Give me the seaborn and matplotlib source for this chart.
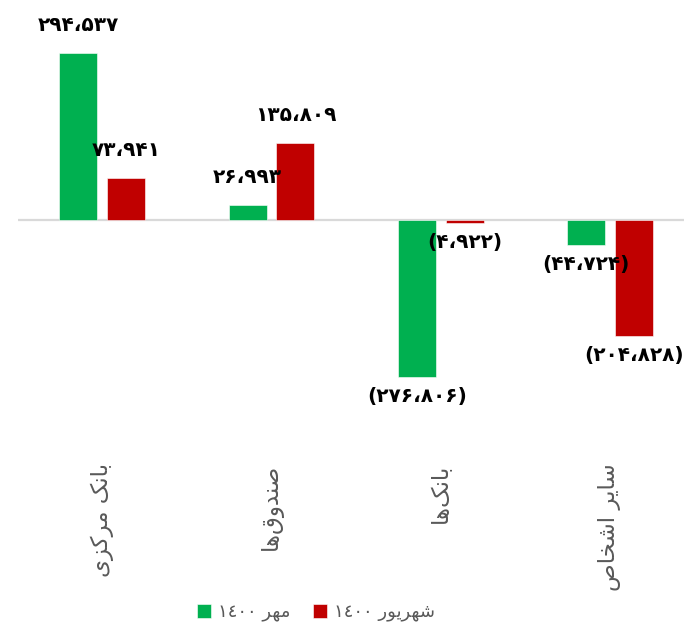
#! /bin/env python3

''' Grouped bar chart: net change by sector, Mehr vs Shahrivar 1400 '''

import matplotlib
matplotlib.use('Agg')
import matplotlib.pyplot as plt
import seaborn as sns
from pandas import DataFrame

categories = ["بانک مرکزی", "صندوق‌ها", "بانک‌ها", "سایر اشخاص"]
series = ["مهر ١٤٠٠", "شهریور ١٤٠٠"]
mehr_values = [294537, 26993, -276806, -44724]
shahrivar_values = [73941, 135809, -4922, -204828]
colors = ["#00B050", "#C00000"]

# isolated, final, initial, medial presentation forms
FORMS = {
    'ا': ('\uFE8D', '\uFE8E', None, None),
    'ب': ('\uFE8F', '\uFE90', '\uFE91', '\uFE92'),
    'ن': ('\uFEE5', '\uFEE6', '\uFEE7', '\uFEE8'),
    'ک': ('\uFB8E', '\uFB8F', '\uFB90', '\uFB91'),
    'م': ('\uFEE1', '\uFEE2', '\uFEE3', '\uFEE4'),
    'ر': ('\uFEAD', '\uFEAE', None, None),
    'ز': ('\uFEAF', '\uFEB0', None, None),
    'ی': ('\uFBFC', '\uFBFD', '\uFBFE', '\uFBFF'),
    'ص': ('\uFEB9', '\uFEBA', '\uFEBB', '\uFEBC'),
    'د': ('\uFEA9', '\uFEAA', None, None),
    'و': ('\uFEED', '\uFEEE', None, None),
    'ق': ('\uFED5', '\uFED6', '\uFED7', '\uFED8'),
    'ه': ('\uFEE9', '\uFEEA', '\uFEEB', '\uFEEC'),
    'س': ('\uFEB1', '\uFEB2', '\uFEB3', '\uFEB4'),
    'ش': ('\uFEB5', '\uFEB6', '\uFEB7', '\uFEB8'),
    'خ': ('\uFEA5', '\uFEA6', '\uFEA7', '\uFEA8'),
}


def _shape_word(word):
    ''' join letters and return them in visual (left to right) order '''
    out = []
    for i, char in enumerate(word):
        if char not in FORMS:
            if char != '\u200c':
                out.append(char)
            continue
        iso, fin, ini, med = FORMS[char]
        prev = word[i - 1] if i > 0 else None
        nxt = word[i + 1] if i + 1 < len(word) else None
        join_prev = prev in FORMS and FORMS[prev][2] is not None
        join_next = ini is not None and nxt in FORMS
        if join_prev and join_next:
            out.append(med)
        elif join_prev:
            out.append(fin)
        elif join_next:
            out.append(ini)
        else:
            out.append(iso)
    return ''.join(reversed(out))


def rtl(text):
    words = [_shape_word(w) if any(c in FORMS for c in w) else w
             for w in text.split(' ')]
    return ' '.join(reversed(words))


def fa_number(value):
    digits = str.maketrans('0123456789', '۰۱۲۳۴۵۶۷۸۹')
    txt = f"{abs(value):,}".replace(',', '،').translate(digits)
    return f"({txt})" if value < 0 else txt


def _main():
    sns.set_style("white")
    plt.rcParams['font.family'] = ['DejaVu Sans']

    data = DataFrame({
        "category": categories * 2,
        "series": [series[0]] * len(categories) + [series[1]] * len(categories),
        "value": mehr_values + shahrivar_values,
    })

    fig = plt.figure(figsize=(6.84, 6.26), dpi=100)
    ax = fig.add_axes([0.0259, 0.2732, 0.9895, 0.7268])

    ax.axhline(0, color="#d9d9d9", linewidth=1.6, zorder=0)
    sns.barplot(data=data, x="category", y="value", hue="series",
                order=categories, hue_order=series, palette=colors,
                width=0.565, gap=0.205, saturation=1, ax=ax,
                edgecolor="white", linewidth=0.4)

    ax.set_ylim(-414100, 387700)
    ax.set_xlim(-0.5, 3.5)

    # positive labels sit further from the bar end than negative ones
    for container, vals in zip(ax.containers, [mehr_values, shahrivar_values]):
        pos = [fa_number(v) if v >= 0 else '' for v in vals]
        neg = [fa_number(v) if v < 0 else '' for v in vals]
        ax.bar_label(container, labels=pos, padding=13,
                     fontsize=14.5, fontweight='bold', color='black')
        ax.bar_label(container, labels=neg, padding=7,
                     fontsize=14.5, fontweight='bold', color='black')

    ax.set_xticks(range(len(categories)))
    ax.set_xticklabels([rtl(c) for c in categories], rotation=90,
                       fontsize=16.5, color="#595959")
    ax.tick_params(axis='x', length=0, pad=6)
    ax.set_yticks([])
    ax.set_xlabel("")
    ax.set_ylabel("")
    for spine in ax.spines.values():
        spine.set_visible(False)

    handles, _ = ax.get_legend_handles_labels()
    ax.legend(handles, [rtl(s) for s in series], loc='center',
              bbox_to_anchor=(0.462, 0.022), bbox_transform=fig.transFigure,
              ncol=2, frameon=False, fontsize=13, labelcolor="#595959",
              handlelength=0.8, handleheight=0.8, handletextpad=0.4,
              columnspacing=1.2)

    fig.savefig("out.png", dpi=100)


if __name__ == "__main__":
    _main()
